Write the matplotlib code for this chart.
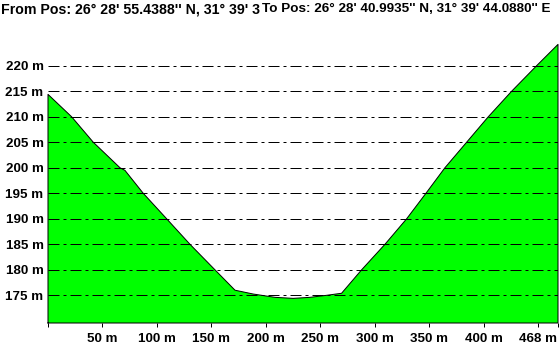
import matplotlib
matplotlib.use("Agg")
import matplotlib.pyplot as plt

plt.rcParams['lines.scale_dashes'] = False

# Data
dist_m = [0, 21.7, 41.6, 66.1, 70.6, 87.4, 108.9, 130.3, 153.2, 171.6, 188.3,
          208.3, 225.0, 240.4, 255.7, 269.4, 287.8, 309.2, 329.1, 346.8, 364.2,
          384.1, 404.0, 425.4, 448.3, 468.0]
elev_m = [214.4, 210.0, 205.0, 200.0, 199.5, 195.0, 190.0, 185.0, 180.0, 176.0, 175.25,
          174.6, 174.4, 174.6, 175.0, 175.4, 180.0, 185.0, 190.0, 195.0, 200.0,
          205.0, 210.0, 215.0, 220.0, 224.2]
y_ticks = [175, 180, 185, 190, 195, 200, 205, 210, 215, 220]
y_labels = [f"{v} m" for v in y_ticks]
x_ticks = [0, 50, 100, 150, 200, 250, 300, 350, 400, 450, 468]
x_labels = ["", "50 m", "100 m", "150 m", "200 m", "250 m", "300 m", "350 m", "400 m", "468 m", ""]
title_from = "From Pos: 26° 28' 55.4388'' N, 31° 39' 3"
title_to = "To Pos: 26° 28' 40.9935'' N, 31° 39' 44.0880'' E"

W, H, DPI = 560, 348, 100
fig = plt.figure(figsize=(W / DPI, H / DPI), dpi=DPI)
fig.patch.set_facecolor("white")
ax = fig.add_axes([48 / W, (H - 323) / H, 510 / W, 283 / H])
ymin, ymax = 169.57, 225.06
ax.set_xlim(0, 468)
ax.set_ylim(ymin, ymax)

px = 72 / DPI
fam = ["Liberation Sans", "DejaVu Sans"]
font = dict(family=fam, weight="bold", size=9.6)
tfont1 = dict(family=fam, weight="bold", size=10.2)
tfont2 = dict(family=fam, weight="bold", size=9.7)

ax.fill_between(dist_m, elev_m, ymin, facecolor="#00ff00", edgecolor="none", zorder=1)
for v in y_ticks:
    ax.axhline(v, color="black", lw=1 * px, linestyle=(0, (11 * px, 4 * px, 3 * px, 4 * px)), zorder=2)
outline_x = [0] + dist_m + [468, 0]
outline_y = [ymin] + elev_m + [ymin, ymin]
ax.plot(outline_x, outline_y, color="black", lw=1 * px, zorder=3, clip_on=False)

for s in ax.spines.values():
    s.set_visible(False)
ax.set_yticks(y_ticks)
ax.set_yticklabels(y_labels, fontdict=font)
ax.tick_params(axis="y", length=0, pad=3.2)
ax.set_xticks(x_ticks)
ax.set_xticklabels(x_labels, fontdict=font)
ax.tick_params(axis="x", length=4 * px, width=1 * px, pad=4, color="black")

fig.text(1 / W, 1 - 9 / H, title_from, ha="left", va="center", fontdict=tfont1)
fig.text(262 / W, 1 - 9 / H, title_to, ha="left", va="center", fontdict=tfont2,
         bbox=dict(facecolor="white", edgecolor="none", pad=0.5))

fig.savefig("out.png", dpi=DPI, facecolor="white")
